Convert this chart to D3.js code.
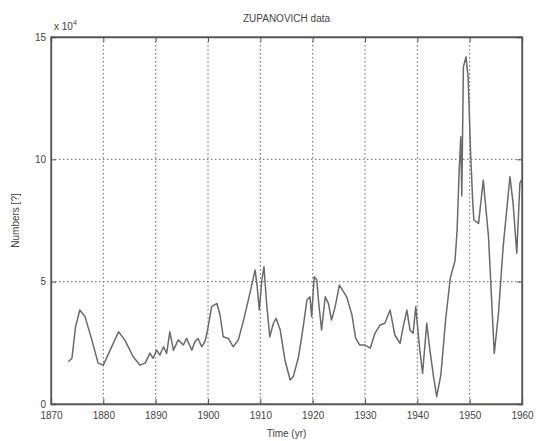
<!DOCTYPE html>
<html>
<head>
<meta charset="utf-8">
<script src="https://cdn.jsdelivr.net/npm/d3@7"></script>
<style>
  body { margin: 0; background: #fff; }
  text { font-family: "Liberation Sans", Arial, sans-serif; fill: #444; }
  .tick text { font-size: 10px; }
</style>
</head>
<body>
<div id="chart"></div>
<script>
// ZUPANOVICH series, values in units of 1e4
var years = [1873.3, 1874.0, 1874.7, 1875.5, 1876.5, 1877.8, 1879.0, 1880.0, 1881.3, 1882.9,
  1884.1, 1885.7, 1887.0, 1888.0, 1888.9, 1889.5, 1890.2, 1890.8, 1891.5, 1892.1,
  1892.7, 1893.4, 1894.3, 1895.3, 1895.9, 1896.9, 1897.5, 1898.1, 1898.8, 1899.4,
  1899.8, 1900.7, 1901.7, 1902.3, 1902.9, 1903.9, 1904.8, 1905.8, 1906.8, 1908.0,
  1909.0, 1909.4, 1909.8, 1910.3, 1910.7, 1911.2, 1911.8, 1912.5, 1913.0, 1913.8,
  1914.7, 1915.7, 1916.3, 1917.3, 1918.2, 1918.9, 1919.5, 1919.8, 1920.3, 1920.8,
  1921.1, 1921.7, 1922.4, 1923.0, 1923.6, 1924.3, 1925.1, 1926.5, 1927.5, 1928.2,
  1929.0, 1930.0, 1931.0, 1931.9, 1932.9, 1933.8, 1934.8, 1935.7, 1936.7, 1937.3,
  1938.0, 1938.6, 1939.2, 1939.7, 1940.4, 1941.0, 1941.8, 1942.4, 1943.1, 1943.7,
  1944.5, 1945.4, 1946.3, 1947.2, 1947.6, 1948.0, 1948.3, 1948.5, 1948.8, 1949.3,
  1949.7, 1950.2, 1950.6, 1950.8, 1951.7, 1952.6, 1953.6, 1954.7, 1955.5, 1956.4,
  1957.7, 1958.3, 1959.0, 1959.6, 1960.0];
var numbers = [1.73, 1.87, 3.16, 3.84, 3.57, 2.62, 1.67, 1.59, 2.20, 2.95,
  2.62, 1.93, 1.59, 1.67, 2.08, 1.87, 2.20, 2.00, 2.34, 2.07,
  2.95, 2.20, 2.62, 2.41, 2.68, 2.20, 2.55, 2.68, 2.34, 2.55,
  2.89, 3.98, 4.11, 3.64, 2.75, 2.68, 2.34, 2.62, 3.43, 4.52,
  5.48, 4.79, 3.84, 5.07, 5.61, 4.11, 2.75, 3.30, 3.50, 3.02,
  1.80, 0.98, 1.12, 1.93, 3.16, 4.25, 4.38, 3.57, 5.20, 5.07,
  4.25, 3.02, 4.38, 4.11, 3.43, 3.98, 4.86, 4.38, 3.65, 2.70,
  2.41, 2.41, 2.28, 2.89, 3.23, 3.30, 3.84, 2.82, 2.48, 3.16,
  3.84, 3.02, 2.89, 3.98, 2.34, 1.25, 3.30, 2.20, 1.12, 0.30,
  1.20, 3.43, 5.15, 5.85, 7.11, 9.56, 10.92, 8.50, 13.78, 14.19,
  13.37, 10.10, 8.20, 7.52, 7.38, 9.15, 6.84, 2.07, 3.70, 6.43,
  9.29, 8.20, 6.16, 9.02, 9.20];
var xTicks = [1870, 1880, 1890, 1900, 1910, 1920, 1930, 1940, 1950, 1960];
var yTicks = [0, 5, 10, 15];

var width = 537, height = 441;
var margin = {top: 37, right: 15, bottom: 37, left: 51};
var w = width - margin.left - margin.right;
var h = height - margin.top - margin.bottom;

var svg = d3.select('#chart').append('svg')
  .attr('width', width)
  .attr('height', height);

var g = svg.append('g')
  .attr('transform', 'translate(' + margin.left + ',' + margin.top + ')');

var x = d3.scaleLinear().domain([1870, 1960]).range([0, w]);
var y = d3.scaleLinear().domain([0, 15]).range([h, 0]);

// dotted grid
g.selectAll('.vgrid').data(xTicks.slice(1, -1)).enter()
  .append('line')
  .attr('x1', function(d){ return x(d); }).attr('x2', function(d){ return x(d); })
  .attr('y1', 0).attr('y2', h)
  .attr('stroke', '#666').attr('stroke-width', 1)
  .attr('stroke-dasharray', '1.5,2.5');
g.selectAll('.hgrid').data(yTicks.slice(1, -1)).enter()
  .append('line')
  .attr('y1', function(d){ return y(d); }).attr('y2', function(d){ return y(d); })
  .attr('x1', 0).attr('x2', w)
  .attr('stroke', '#666').attr('stroke-width', 1)
  .attr('stroke-dasharray', '1.5,2.5');

// axes, ticks pointing inward like matlab
var xAxis = d3.axisBottom(x).tickValues(xTicks).tickSize(-5).tickPadding(8).tickFormat(d3.format('d'));
var yAxis = d3.axisLeft(y).tickValues(yTicks).tickSize(-5).tickPadding(5);

g.append('g').attr('transform', 'translate(0,' + h + ')').call(xAxis);
g.append('g').call(yAxis);
g.append('g').call(d3.axisTop(x).tickValues(xTicks).tickSize(-5).tickFormat(''));
g.append('g').attr('transform', 'translate(' + w + ',0)')
  .call(d3.axisRight(y).tickValues(yTicks).tickSize(-5).tickFormat(''));

g.selectAll('.domain').attr('stroke', '#555').attr('stroke-width', 1.3);
g.selectAll('.tick line').attr('stroke', '#555');

g.append('rect')
  .attr('width', w).attr('height', h)
  .attr('fill', 'none').attr('stroke', '#555').attr('stroke-width', 1.3);

// data line
var line = d3.line()
  .x(function(d, i){ return x(years[i]); })
  .y(function(d){ return y(d); });

g.append('path')
  .datum(numbers)
  .attr('d', line)
  .attr('fill', 'none')
  .attr('stroke', '#6a6a6a')
  .attr('stroke-width', 1.5)
  .attr('stroke-linejoin', 'round');

// texts
svg.append('text')
  .attr('x', margin.left + w / 2).attr('y', 22)
  .attr('text-anchor', 'middle')
  .style('font-size', '10px')
  .text('ZUPANOVICH data');

var exp = svg.append('text')
  .attr('x', margin.left + 3).attr('y', 30)
  .style('font-size', '10px');
exp.append('tspan').text('x 10');
exp.append('tspan').attr('dy', -5).style('font-size', '7px').text('4');

svg.append('text')
  .attr('x', margin.left + w / 2).attr('y', height - 4)
  .attr('text-anchor', 'middle')
  .style('font-size', '10px')
  .text('Time (yr)');

svg.append('text')
  .attr('transform', 'translate(19,' + (margin.top + h / 2) + ') rotate(-90)')
  .attr('text-anchor', 'middle')
  .style('font-size', '10px')
  .text('Numbers [?]');
</script>
</body>
</html>
